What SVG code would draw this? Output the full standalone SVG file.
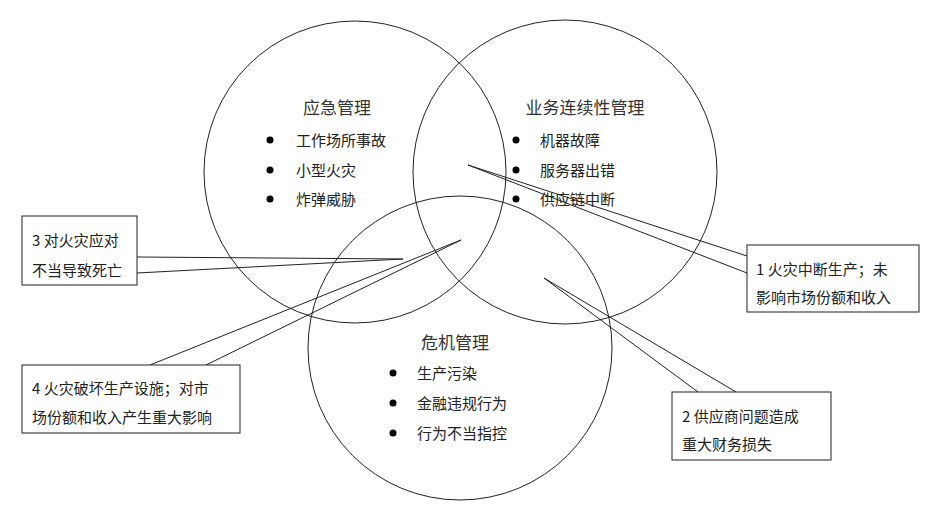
<svg xmlns="http://www.w3.org/2000/svg" width="940" height="520" viewBox="0 0 940 520">
<style>
.c{fill:none;stroke:#222;stroke-width:1}
.b{fill:#fff;stroke:#222;stroke-width:1}
.w{fill:none;stroke:#222;stroke-width:1}
text{font-family:"Noto Sans CJK SC","Liberation Sans",sans-serif;font-size:15px;fill:#222}
.h{font-size:17px;fill:#333;text-anchor:middle}
</style>
<rect width="940" height="520" fill="#fff"/>
<g id="circles">
<circle id="yingji" class="c" cx="355" cy="172" r="151"/>
<circle id="yewu" class="c" cx="565" cy="172" r="152"/>
<circle id="weiji" class="c" cx="460" cy="348" r="152"/>
</g>
<g id="yingji-text">
<text class="h" x="337" y="114">应急管理</text>
<circle cx="270" cy="140" r="3.5"/><text x="296" y="146">工作场所事故</text>
<circle cx="270" cy="170" r="3.5"/><text x="296" y="176">小型火灾</text>
<circle cx="270" cy="199" r="3.5"/><text x="296" y="205">炸弹威胁</text>
</g>
<g id="yewu-text">
<text class="h" x="585" y="114">业务连续性管理</text>
<circle cx="516" cy="140" r="3.5"/><text x="540" y="146">机器故障</text>
<circle cx="516" cy="170" r="3.5"/><text x="540" y="176">服务器出错</text>
<circle cx="516" cy="199" r="3.5"/><text x="540" y="205">供应链中断</text>
</g>
<g id="weiji-text">
<text class="h" x="455" y="349">危机管理</text>
<circle cx="393" cy="373" r="3.5"/><text x="417" y="379">生产污染</text>
<circle cx="393" cy="403" r="3.5"/><text x="417" y="409">金融违规行为</text>
<circle cx="393" cy="433" r="3.5"/><text x="417" y="439">行为不当指控</text>
</g>
<g id="connectors">
<polyline class="w" points="747,256 468,165 747,273"/>
<polyline class="w" points="137,257 403,259 137,273"/>
<polyline class="w" points="150,365 461,240 206,365"/>
<polyline class="w" points="698,392 544,278 736,392"/>
</g>
<g id="box3">
<rect class="b" x="22" y="216" width="115" height="69"/>
<text x="32" y="246">3 对火灾应对</text>
<text x="32" y="276">不当导致死亡</text>
</g>
<g id="box1">
<rect class="b" x="747" y="245" width="172" height="67"/>
<text x="756" y="275">1 火灾中断生产；未</text>
<text x="756" y="303">影响市场份额和收入</text>
</g>
<g id="box4">
<rect class="b" x="22" y="365" width="218" height="68"/>
<text x="32" y="394">4 火灾破坏生产设施；对市</text>
<text x="32" y="423">场份额和收入产生重大影响</text>
</g>
<g id="box2">
<rect class="b" x="672" y="392" width="159" height="68"/>
<text x="682" y="422">2 供应商问题造成</text>
<text x="682" y="450">重大财务损失</text>
</g>
</svg>
